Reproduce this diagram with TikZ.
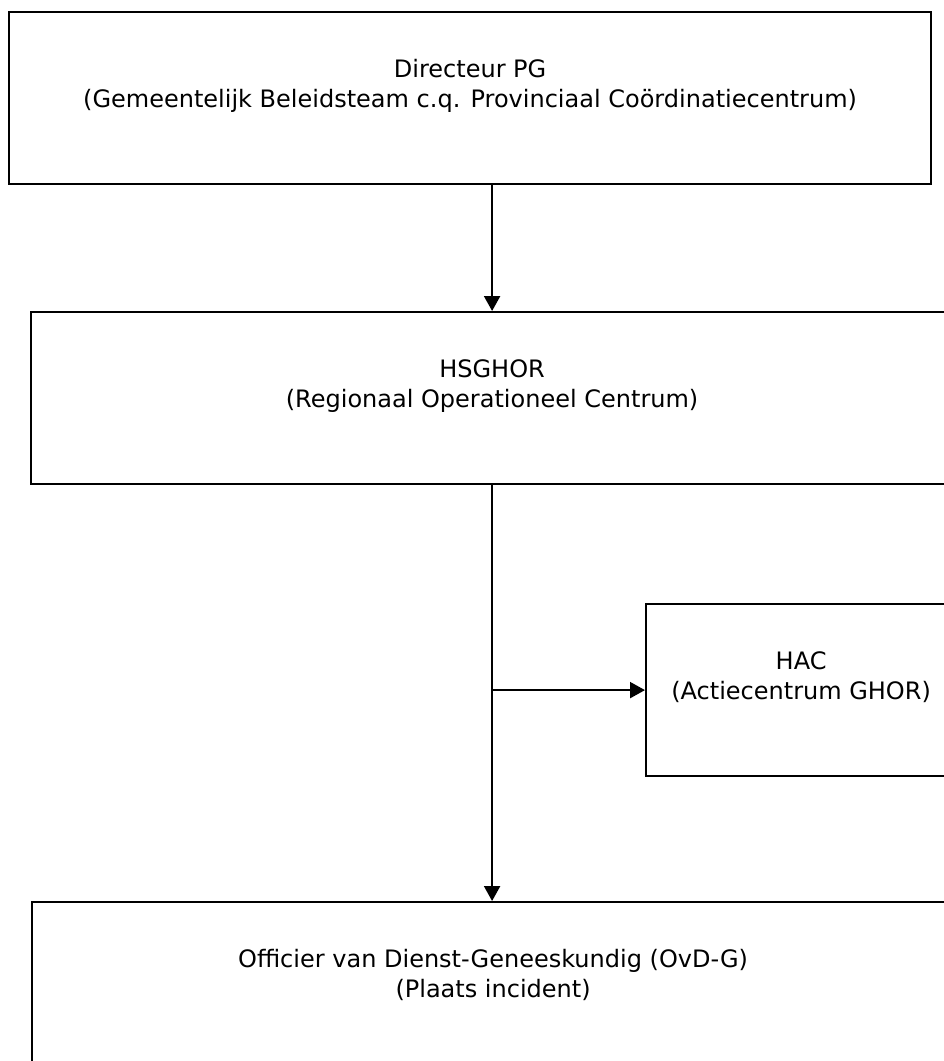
\documentclass[tikz,border=0pt]{standalone}
\usepackage{fontspec}
\setmainfont{DejaVu Sans}
\usepackage{tikz}
\usetikzlibrary{arrows.meta, positioning, calc}
\tikzset{
  box/.style={rectangle, draw=black, line width=2.2pt, align=center,
              minimum width=#1, minimum height=172pt, anchor=north west,
              inner sep=0pt, fill=white},
  box/.default=922pt,
  arrow/.style={-{Triangle[length=15pt, width=16pt]}, line width=2.2pt},
}

\begin{document}
\begin{tikzpicture}[x=1pt, y=-1pt, font=\fontsize{24}{29.5}\selectfont]

\path[use as bounding box, clip] (0,0) rectangle (944,1061);

% ── boxes ────────────────────────────────────────────────────────────────────
\node[box] (dpg) at (8,11)
  {Directeur PG\\(Gemeentelijk Beleidsteam c.q. Provinciaal Coördinatiecentrum)\\~};

\node[box] (hsghor) at (30,311)
  {HSGHOR\\(Regionaal Operationeel Centrum)\\~};

\node[box=310pt] (hac) at (645,603)
  {HAC\\(Actiecentrum GHOR)\\~};

\node[box] (ovdg) at (31,901)
  {Officier van Dienst-Geneeskundig (OvD-G)\\(Plaats incident)\\~};

% ── connectors ───────────────────────────────────────────────────────────────
\draw[arrow] (dpg.south -| hsghor.north) -- (hsghor.north);
\draw[arrow] (hsghor.south) -- (hsghor.south |- ovdg.north);

\coordinate (split) at (hsghor.south |- hac.west);
\draw[arrow] (split) -- (hac.west);

\end{tikzpicture}
\end{document}
